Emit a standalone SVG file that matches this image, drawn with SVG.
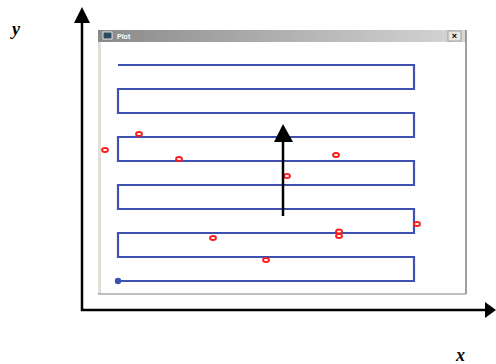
<svg xmlns="http://www.w3.org/2000/svg" width="496" height="364" viewBox="0 0 496 364">
<style>
.axis{stroke:#000;stroke-width:2.5;fill:none}
.trace{stroke:#3f51b0;stroke-width:2.2;fill:none;stroke-linejoin:miter}
.pt{stroke:#ff1a1a;stroke-width:1.8;fill:#fff}
.lbl{font-family:"Liberation Serif",serif;font-style:italic;font-weight:bold;font-size:18px;fill:#000}
</style>
<defs>
<linearGradient id="tb" x1="0" y1="0" x2="1" y2="0">
<stop offset="0" stop-color="#8a8a8a"/>
<stop offset="1" stop-color="#d6d6d6"/>
</linearGradient>
</defs>
<rect width="496" height="364" fill="#fff"/>
<g id="window">
<rect x="98" y="30" width="368" height="264" fill="#fff"/>
<rect x="98" y="42" width="3" height="252" fill="#e2dfd8"/>
<rect x="98" y="30" width="368" height="12" fill="url(#tb)"/>
<rect x="103" y="32" width="9" height="7" fill="#2d4a5c" stroke="#fff" stroke-width="0.8"/>
<text x="117" y="39" font-family="Liberation Sans,sans-serif" font-size="7" font-weight="bold" fill="#fff">Plot</text>
<rect x="448" y="31" width="13" height="10" fill="#e8e6e0" stroke="#777" stroke-width="0.6"/>
<text x="454.5" y="39" text-anchor="middle" font-family="Liberation Sans,sans-serif" font-size="9" font-weight="bold" fill="#000">×</text>
<line x1="466" y1="30" x2="466" y2="294" stroke="#808080" stroke-width="1.5"/>
<line x1="98" y1="294" x2="466" y2="294" stroke="#808080" stroke-width="1"/>
</g>
<g id="trace">
<path class="trace" d="M118 281H414V257H118V233H414V209H118V185H414V161H118V137H414V113H118V89H414V65H118"/>
<circle cx="118" cy="281" r="3.2" fill="#3f51b0"/>
</g>
<g id="points">
<ellipse class="pt" cx="139" cy="134" rx="3" ry="2"/>
<ellipse class="pt" cx="105" cy="150" rx="3" ry="2"/>
<ellipse class="pt" cx="179" cy="159" rx="3" ry="2"/>
<ellipse class="pt" cx="213" cy="238" rx="3" ry="2"/>
<ellipse class="pt" cx="336" cy="155" rx="3" ry="2"/>
<ellipse class="pt" cx="287" cy="176" rx="3" ry="2"/>
<ellipse class="pt" cx="417" cy="224" rx="3" ry="2"/>
<ellipse class="pt" cx="339" cy="231.5" rx="3" ry="2"/>
<ellipse class="pt" cx="339" cy="236" rx="3" ry="2"/>
<ellipse class="pt" cx="266" cy="260" rx="3" ry="2"/>
</g>
<g id="connectors">
<line class="axis" x1="82" y1="22" x2="82" y2="311"/>
<polygon points="82,7 74,23 90,23" fill="#000"/>
<line class="axis" x1="81" y1="310" x2="487" y2="310"/>
<polygon points="496,310 485,302 485,318" fill="#000"/>
<line class="axis" x1="283" y1="140" x2="283" y2="216" stroke-width="3"/>
<polygon points="283,124 274,142 293,142" fill="#000"/>
</g>
<g id="labels">
<text class="lbl" x="12" y="35">y</text>
<text class="lbl" x="456" y="361">x</text>
</g>
</svg>
